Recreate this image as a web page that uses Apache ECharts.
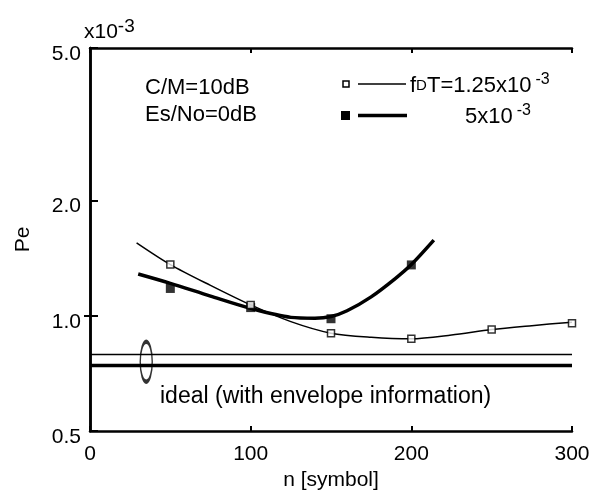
<!DOCTYPE html>
<html>
<head>
<meta charset="utf-8">
<script src="https://cdn.jsdelivr.net/npm/echarts@6/dist/echarts.min.js"></script>
<style>
  html, body { margin: 0; padding: 0; background: #fff; }
  #chart { width: 596px; height: 491px; }
</style>
</head>
<body>
<div id="chart"></div>
<script>
// tick labels
var xTicks = [0, 100, 200, 300];
var yTicks = [0.5, 1.0, 2.0, 5.0];

// fDT = 1.25x10^-3 : fitted curve (thin) and measured points (open squares)
var thinCurve = [[29, 1.55], [50, 1.36], [75, 1.20], [100, 1.067], [125, 0.965], [150, 0.90], [175, 0.878], [200, 0.87], [225, 0.89], [250, 0.92], [275, 0.942], [300, 0.962]];
var thinPoints = [[50, 1.36], [100, 1.067], [150, 0.90], [200, 0.87], [250, 0.92], [300, 0.955]];

// fDT = 5x10^-3 : fitted curve (thick) and measured points (filled squares)
var thickCurve = [[30, 1.285], [50, 1.215], [75, 1.125], [100, 1.045], [125, 0.99], [140, 0.985], [150, 0.995], [160, 1.03], [175, 1.12], [190, 1.25], [200, 1.36], [214, 1.575]];
var thickPoints = [[50, 1.178], [100, 1.05], [150, 0.982], [200, 1.357]];

// ideal (with envelope information)
var idealThin = [[0, 0.792], [300, 0.792]];
var idealThick = [[0, 0.741], [300, 0.741]];
var ellipseAt = [[35, 0.758]];

var font = 'Liberation Sans, Arial, sans-serif';

var myChart = echarts.init(document.getElementById('chart'));
var option = {
    backgroundColor: '#fff',
    animation: false,
    textStyle: { fontFamily: font, color: '#000' },
    grid: {
        left: 90,
        right: 24,
        top: 48,
        bottom: 60,
        outerBoundsMode: 'none'
    },
    xAxis: [{
        type: 'value',
        min: 0,
        max: 300,
        interval: 100,
        splitLine: { show: false },
        axisLine: { show: true, lineStyle: { color: '#000', width: 2.5 } },
        axisTick: { inside: true, length: 5, lineStyle: { color: '#000', width: 2 } },
        axisLabel: {
            margin: 13,
            fontSize: 21,
            color: '#000',
            fontFamily: font,
            customValues: xTicks
        },
        name: 'n [symbol]',
        nameLocation: 'middle',
        nameGap: 37,
        nameTextStyle: { fontSize: 21, color: '#000', fontFamily: font }
    }, {
        type: 'value',
        position: 'top',
        min: 0,
        max: 300,
        interval: 100,
        splitLine: { show: false },
        axisLine: { show: true, lineStyle: { color: '#000', width: 2.5 } },
        axisTick: { inside: true, length: 5, lineStyle: { color: '#000', width: 2 } },
        axisLabel: { show: false }
    }],
    yAxis: [{
        type: 'log',
        logBase: 10,
        min: 0.5,
        max: 5,
        splitLine: { show: false },
        axisLine: { show: true, lineStyle: { color: '#000', width: 2.5 } },
        axisTick: { inside: true, length: 8, lineStyle: { color: '#000', width: 2 }, customValues: yTicks },
        axisLabel: {
            margin: 9,
            color: '#000',
            customValues: yTicks,
            formatter: function (v) { return '{a|' + Number(v).toFixed(1) + '}'; },
            rich: { a: { fontSize: 21, fontFamily: font, color: '#000', padding: [12, 0, 0, 0] } }
        },
        name: 'Pe',
        nameLocation: 'middle',
        nameGap: 56,
        nameRotate: 90,
        nameTextStyle: { fontSize: 21, color: '#000', fontFamily: font }
    }, {
        type: 'log',
        logBase: 10,
        position: 'right',
        min: 0.5,
        max: 5,
        splitLine: { show: false },
        axisLine: { show: true, lineStyle: { color: '#000', width: 2.5 } },
        axisTick: { inside: true, length: 6, lineStyle: { color: '#000', width: 2 }, customValues: [1.0] },
        axisLabel: { show: false }
    }],
    graphic: [
        // axis multiplier
        { type: 'text', left: 84, top: 17, style: { text: 'x10{s|-3}', font: '21px ' + font, fill: '#000',
            rich: { s: { fontSize: 19, verticalAlign: 'top', padding: [0, 0, 12, 0], fontFamily: font } } } },
        // conditions
        { type: 'text', left: 145, top: 77, style: { text: 'C/M=10dB', font: '22px ' + font, fill: '#000' } },
        { type: 'text', left: 145, top: 104, style: { text: 'Es/No=0dB', font: '22px ' + font, fill: '#000' } },
        // legend row 1
        { type: 'rect', shape: { x: 343, y: 81, width: 6, height: 6 }, style: { fill: '#fff', stroke: '#000', lineWidth: 1.5 } },
        { type: 'line', shape: { x1: 358, y1: 84, x2: 406, y2: 84 }, style: { stroke: '#000', lineWidth: 1.5 } },
        { type: 'text', left: 410, top: 72, style: { text: 'f{d|D}T=1.25x10{s|-3}', font: '22px ' + font, fill: '#000',
            rich: { d: { fontSize: 15, fontFamily: font }, s: { fontSize: 16, verticalAlign: 'top', padding: [0, 0, 12, 4], fontFamily: font } } } },
        // legend row 2
        { type: 'rect', shape: { x: 341, y: 111, width: 9, height: 9 }, style: { fill: '#000' } },
        { type: 'line', shape: { x1: 358, y1: 115.5, x2: 407, y2: 115.5 }, style: { stroke: '#000', lineWidth: 3.5 } },
        { type: 'text', left: 465, top: 103, style: { text: '5x10{s|-3}', font: '22px ' + font, fill: '#000',
            rich: { s: { fontSize: 16, verticalAlign: 'top', padding: [0, 0, 12, 4], fontFamily: font } } } },
        // ideal label
        { type: 'text', left: 160, top: 385, style: { text: 'ideal (with envelope information)', font: '23px ' + font, fill: '#000' } }
    ],
    series: [{
        name: 'ideal thin',
        type: 'line',
        data: idealThin,
        showSymbol: false,
        silent: true,
        lineStyle: { color: '#000', width: 1.5 }
    }, {
        name: 'ideal thick',
        type: 'line',
        data: idealThick,
        showSymbol: false,
        silent: true,
        lineStyle: { color: '#000', width: 3.5 }
    }, {
        name: 'ellipse',
        type: 'scatter',
        data: ellipseAt,
        symbol: 'circle',
        symbolSize: [12, 40],
        silent: true,
        itemStyle: { color: 'rgba(0,0,0,0)', borderColor: '#000', borderWidth: 2.5 }
    }, {
        name: 'fDT=1.25x10^-3 curve',
        type: 'line',
        data: thinCurve,
        smooth: 0.3,
        showSymbol: false,
        silent: true,
        lineStyle: { color: '#000', width: 1.5 }
    }, {
        name: 'fDT=5x10^-3 curve',
        type: 'line',
        data: thickCurve,
        smooth: 0.3,
        showSymbol: false,
        silent: true,
        lineStyle: { color: '#000', width: 3.5 }
    }, {
        name: 'fDT=1.25x10^-3',
        type: 'scatter',
        data: thinPoints,
        symbol: 'rect',
        symbolSize: 7,
        silent: true,
        z: 5,
        itemStyle: { color: '#fff', borderColor: '#000', borderWidth: 1.5 }
    }, {
        name: 'fDT=5x10^-3',
        type: 'scatter',
        data: thickPoints,
        symbol: 'rect',
        symbolSize: 9,
        silent: true,
        z: 4,
        itemStyle: { color: '#000' }
    }]
};
myChart.setOption(option);
</script>
</body>
</html>
